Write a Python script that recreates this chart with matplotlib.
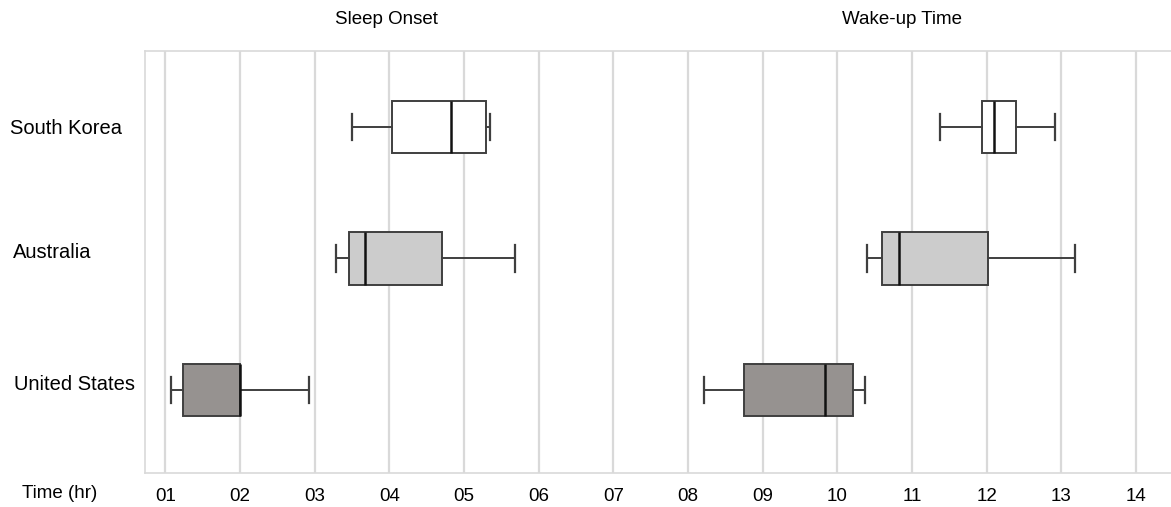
import matplotlib
matplotlib.use('Agg')
import matplotlib.pyplot as plt

plt.rcParams['font.family'] = ['Liberation Sans', 'DejaVu Sans']

# data (hours), rows top to bottom
countries = ['South Korea', 'Australia', 'United States']
fill_colors = ['#ffffff', '#cccccc', '#969290']

sleep_whislo = [3.50, 3.29, 1.07]
sleep_q1 = [4.04, 3.46, 1.24]
sleep_med = [4.83, 3.67, 2.00]
sleep_q3 = [5.29, 4.71, 2.00]
sleep_whishi = [5.35, 5.69, 2.92]

wake_whislo = [11.38, 10.40, 8.21]
wake_q1 = [11.94, 10.60, 8.75]
wake_med = [12.10, 10.83, 9.83]
wake_q3 = [12.40, 12.02, 10.21]
wake_whishi = [12.92, 13.19, 10.37]

hours = list(range(1, 15))
hour_labels = ['%02d' % h for h in hours]

W, H = 1171, 507
fig = plt.figure(figsize=(W / 100, H / 100), dpi=100)
ax = fig.add_axes([145 / W, 1 - 472.5 / H, 1 - 145 / W, (472.5 - 51) / H])

edge = '#3f3f3f'


def make_stats(lo, q1, med, q3, hi):
    out = []
    for i in range(len(lo)):
        out.append(dict(whislo=lo[i], q1=q1[i], med=med[i], q3=q3[i], whishi=hi[i], fliers=[]))
    return out


for stats in [make_stats(sleep_whislo, sleep_q1, sleep_med, sleep_q3, sleep_whishi),
              make_stats(wake_whislo, wake_q1, wake_med, wake_q3, wake_whishi)]:
    bp = ax.bxp(stats, positions=[0, 1, 2], widths=0.4, vert=False, patch_artist=True,
                showfliers=False,
                boxprops=dict(edgecolor=edge, linewidth=1.4),
                whiskerprops=dict(color=edge, linewidth=1.4),
                capprops=dict(color=edge, linewidth=1.6),
                medianprops=dict(color='#111111', linewidth=1.8))
    for patch, c in zip(bp['boxes'], fill_colors):
        patch.set_facecolor(c)

ax.set_xlim(0.728, 14.47)
ax.set_ylim(2.63, -0.58)
ax.set_xticks(hours)
ax.set_xticklabels(hour_labels, fontsize=13.5)
ax.tick_params(axis='x', length=0, pad=11)
ax.xaxis.grid(True, color='#d9d9d9', linewidth=1.6)
ax.set_axisbelow(True)
ax.set_yticks([])

for s in ['top', 'left', 'bottom']:
    ax.spines[s].set_color('#d9d9d9')
    ax.spines[s].set_linewidth(1.2)
ax.spines['right'].set_visible(False)

# row labels (pixel placement taken from the reference layout)
label_x = [10, 13, 14]
label_y = [128, 253, 385]
for name, lx, ly in zip(countries, label_x, label_y):
    fig.text(lx / W, 1 - ly / H, name, fontsize=14.5, va='center', ha='left')

fig.text(22 / W, 1 - 493 / H, 'Time (hr)', fontsize=13.5, va='center', ha='left')
fig.text(386 / W, 1 - 20 / H, 'Sleep Onset', fontsize=13.5, va='center', ha='center')
fig.text(902 / W, 1 - 20 / H, 'Wake-up Time', fontsize=13.5, va='center', ha='center')

fig.savefig('out.png', dpi=100)
plt.close()
